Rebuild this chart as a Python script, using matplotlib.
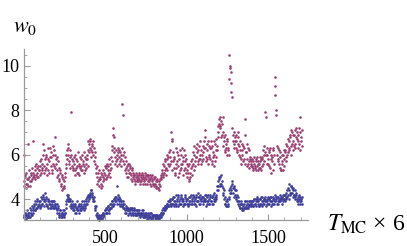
import numpy as np
import matplotlib
matplotlib.use("Agg")
import matplotlib.pyplot as plt
from matplotlib.ticker import MultipleLocator

# ── Data ───────────────────────────────────────────────────────────────
# two interleaved samples per series, one value every 5 steps each,
# the "_b" lists sit half a step later
step = 5

w0_upper = [
    6.0, 4.8, 5.0, 4.7, 4.9, 6.5, 4.6, 5.0, 4.8, 5.1, 4.9, 5.2, 6.6, 5.0, 5.3, 5.1, 5.4, 5.2, 5.0, 5.3,
    5.5, 5.2, 5.6, 5.3, 6.5, 5.5, 5.8, 5.4, 6.0, 5.6, 5.3, 5.7, 6.3, 5.5, 5.9, 5.2, 5.6, 6.2, 6.8, 5.4,
    5.6, 5.3, 5.1, 5.4, 4.9, 5.2, 4.7, 5.0, 4.5, 4.8, 4.6, 5.0, 5.6, 6.2, 6.0, 6.3, 5.7, 5.9, 7.9, 5.5,
    5.7, 5.4, 5.6, 5.3, 5.8, 5.5, 5.7, 5.2, 5.6, 5.4, 5.8, 5.5, 5.3, 5.7, 5.5, 5.9, 5.4, 5.6, 5.8, 6.2,
    6.5, 6.3, 6.6, 6.2, 6.4, 6.0, 6.3, 5.6, 5.9, 5.2, 5.0, 4.8, 5.3, 4.6, 4.9, 4.7, 5.1, 4.8, 5.0, 5.2,
    5.1, 5.4, 5.0, 5.3, 5.5, 5.2, 5.6, 5.4, 5.7, 6.4, 7.2, 6.8, 5.9, 5.7, 6.0, 5.8, 6.1, 5.9, 5.7, 6.0,
    5.8, 8.3, 7.8, 5.6, 5.9, 5.4, 5.2, 5.5, 5.3, 5.6, 5.2, 5.4, 5.1, 5.3, 5.0, 4.9, 5.1, 4.8, 5.0, 4.9,
    5.0, 4.9, 5.1, 4.8, 5.0, 4.9, 5.1, 5.0, 4.8, 5.0, 4.9, 5.1, 4.8, 5.0, 4.9, 4.7, 5.0, 4.8, 4.9, 4.7,
    4.9, 4.7, 4.8, 4.6, 4.8, 4.5, 4.7, 4.6, 4.9, 5.0, 5.3, 5.1, 5.5, 5.3, 5.7, 5.4, 5.8, 5.6, 5.5, 5.9,
    6.2, 7.0, 6.7, 5.7, 5.4, 5.9, 5.2, 5.6, 6.1, 5.0, 5.5, 5.8, 5.3, 6.0, 5.6, 5.1, 5.7, 6.2, 5.4, 5.8,
    5.3, 5.0, 5.5, 4.9, 5.2, 5.4, 5.1, 5.8, 5.6, 6.0, 5.7, 6.3, 5.9, 6.1, 5.6, 6.4, 6.0, 5.8, 6.2, 5.7,
    6.1, 6.6, 7.1, 6.3, 5.9, 6.2, 5.6, 6.4, 6.0, 5.8, 6.3, 5.7, 6.1, 5.5, 6.0, 6.5, 5.9, 6.2, 7.3, 7.0,
    7.6, 7.2, 7.5, 6.9, 7.7, 6.4, 6.8, 6.1, 6.5, 6.0, 6.7, 6.3, 10.5, 9.9, 9.7, 9.2, 8.6, 6.9, 6.5, 6.8,
    6.3, 6.6, 6.1, 7.0, 6.4, 5.9, 6.2, 5.6, 6.0, 6.4, 5.8, 7.6, 5.6, 6.1, 5.5, 6.3, 5.7, 5.4, 5.9, 5.6,
    5.5, 5.7, 5.3, 5.6, 5.4, 5.8, 5.5, 5.3, 5.7, 5.6, 5.4, 5.8, 5.5, 5.9, 6.2, 5.7, 7.9, 6.0, 5.6, 6.3,
    5.8, 6.1, 5.4, 6.0, 5.2, 5.7, 6.3, 5.6, 9.5, 8.7, 7.8, 6.0, 5.7, 6.2, 5.4, 5.9, 5.3, 5.6, 6.0, 5.5,
    5.8, 6.2, 5.9, 6.4, 6.1, 6.6, 6.3, 6.8, 6.4, 7.0, 6.6, 6.2, 6.9, 6.5, 7.2, 6.7, 6.3, 6.9, 6.5, 7.7,
    6.8, 6.4,
]

w0_upper_b = [
    4.6, 5.1, 4.5, 5.2, 4.7, 4.9, 5.3, 4.6, 5.2, 4.8, 5.4, 5.0, 5.1, 5.5, 4.9, 5.6, 5.0, 5.5, 5.3, 5.7,
    5.1, 5.8, 5.4, 6.0, 5.2, 6.2, 5.3, 5.9, 5.1, 6.3, 5.8, 5.2, 5.9, 6.1, 5.3, 6.0, 6.4, 5.5, 6.0, 5.8,
    5.9, 5.0, 5.7, 4.8, 5.3, 4.6, 5.1, 4.4, 4.9, 4.5, 5.2, 5.4, 6.0, 5.8, 6.5, 5.6, 6.2, 5.4, 6.0, 5.8,
    5.3, 5.9, 5.1, 6.0, 5.4, 5.2, 6.1, 5.5, 5.1, 5.9, 5.3, 6.0, 5.6, 5.2, 6.1, 5.3, 5.8, 6.0, 5.5, 6.6,
    6.1, 6.7, 5.9, 6.5, 6.1, 6.6, 5.7, 6.1, 5.4, 5.5, 4.7, 5.2, 4.9, 5.0, 4.5, 5.2, 4.6, 5.3, 4.9, 5.5,
    5.5, 4.9, 5.6, 5.1, 5.8, 5.3, 5.0, 5.9, 6.2, 6.9, 6.1, 6.3, 5.6, 6.2, 5.5, 6.3, 5.6, 6.2, 6.1, 5.5,
    6.3, 6.0, 5.7, 6.1, 5.3, 5.7, 5.0, 5.6, 5.0, 5.2, 5.5, 4.9, 5.4, 4.8, 5.2, 5.1, 4.7, 5.2, 4.8, 5.1,
    4.8, 5.2, 4.7, 5.1, 4.8, 5.2, 4.7, 4.9, 5.2, 4.7, 5.1, 4.7, 5.1, 4.8, 5.1, 4.9, 4.6, 5.1, 4.7, 5.0,
    4.6, 5.0, 4.5, 4.9, 4.5, 4.8, 4.4, 4.9, 5.1, 5.2, 5.0, 5.6, 5.2, 5.8, 5.1, 6.0, 5.3, 5.9, 6.1, 5.6,
    5.7, 6.6, 5.3, 6.1, 5.8, 5.1, 6.3, 5.4, 5.7, 6.0, 5.2, 6.2, 5.6, 5.4, 6.3, 5.9, 5.3, 5.7, 6.0, 5.2,
    5.6, 5.2, 4.8, 5.6, 5.0, 5.7, 5.5, 6.1, 5.3, 6.4, 5.5, 5.9, 6.5, 5.7, 6.2, 5.8, 6.6, 5.6, 6.0, 6.4,
    5.8, 6.3, 6.8, 5.7, 6.5, 5.8, 6.6, 5.9, 6.3, 6.6, 5.6, 6.4, 5.9, 6.6, 5.7, 6.2, 6.7, 6.4, 6.8, 7.4,
    7.3, 7.7, 6.8, 7.4, 7.0, 6.6, 6.2, 6.9, 6.3, 6.6, 6.2, 6.0, 9.4, 10.0, 8.8, 7.2, 6.6, 7.0, 6.3, 6.6,
    6.9, 6.2, 6.8, 6.5, 6.0, 6.6, 5.8, 6.5, 6.2, 5.7, 6.3, 6.9, 6.1, 5.8, 6.5, 5.6, 6.2, 5.8, 5.5, 5.7,
    5.8, 5.4, 5.9, 5.5, 5.7, 5.3, 5.9, 5.6, 5.4, 5.9, 5.7, 5.3, 5.8, 5.6, 6.0, 6.4, 6.1, 7.7, 6.0, 5.6,
    6.2, 5.5, 6.3, 5.8, 5.9, 6.2, 5.3, 6.0, 9.1, 8.0, 6.4, 5.8, 6.3, 5.6, 6.1, 5.3, 6.0, 5.7, 5.3, 6.2,
    6.1, 5.7, 6.5, 6.0, 6.7, 6.2, 6.9, 6.0, 7.1, 6.5, 6.9, 6.4, 7.1, 6.3, 6.8, 7.0, 6.6, 7.2, 6.2, 7.0,
    6.6, 7.1,
]

w0_lower = [
    3.3, 3.2, 3.4, 3.3, 3.5, 3.2, 3.3, 3.4, 3.2, 3.5, 3.3, 3.6, 3.4, 3.7, 3.5, 3.8, 3.6, 3.9, 3.7, 3.8,
    3.9, 3.7, 4.0, 3.8, 4.1, 3.9, 4.3, 3.8, 4.0, 3.7, 3.9, 3.8, 3.6, 3.9, 3.7, 3.8, 3.6, 3.9, 3.7, 3.8,
    3.6, 3.5, 3.7, 3.4, 3.3, 3.5, 3.2, 3.4, 3.3, 3.2, 3.5, 3.4, 3.8, 4.0, 4.2, 4.1, 3.9, 4.0, 3.8, 3.7,
    3.6, 3.8, 3.5, 3.7, 3.4, 3.9, 3.6, 3.5, 3.8, 3.6, 3.7, 3.5, 3.9, 3.6, 3.8, 3.7, 3.9, 4.0, 3.8, 4.1,
    4.2, 4.3, 4.1, 4.4, 4.2, 4.0, 3.9, 3.7, 3.5, 3.3, 3.2, 3.1, 3.3, 3.05, 3.2, 3.1, 3.3, 3.2, 3.4, 3.3,
    3.5, 3.4, 3.6, 3.5, 3.7, 3.4, 3.6, 3.8, 3.7, 3.9, 3.8, 4.0, 3.9, 4.1, 3.8, 4.6, 4.0, 3.9, 4.0, 3.8,
    3.9, 3.7, 3.8, 3.6, 3.5, 3.7, 3.4, 3.6, 3.5, 3.4, 3.6, 3.5, 3.3, 3.5, 3.4, 3.6, 3.5, 3.4, 3.3, 3.5,
    3.4, 3.3, 3.5, 3.2, 3.4, 3.3, 3.5, 3.4, 3.2, 3.3, 3.4, 3.2, 3.3, 3.1, 3.3, 3.2, 3.4, 3.2, 3.1, 3.3,
    3.2, 3.3, 3.1, 3.2, 3.3, 3.2, 3.1, 3.3, 3.2, 3.4, 3.5, 3.4, 3.6, 3.5, 3.7, 3.6, 3.8, 3.7, 3.9, 3.8,
    3.9, 3.7, 4.0, 3.8, 3.7, 4.1, 3.9, 3.8, 4.0, 3.7, 4.2, 3.9, 3.8, 4.1, 3.9, 3.7, 4.0, 3.8, 4.2, 3.9,
    3.8, 4.0, 3.7, 3.9, 4.1, 3.8, 4.0, 3.9, 4.2, 3.8, 4.0, 3.7, 4.1, 3.9, 4.3, 3.8, 4.0, 4.2, 3.9, 4.1,
    3.8, 4.0, 4.2, 3.9, 3.7, 4.1, 3.9, 4.0, 3.8, 4.2, 3.9, 4.1, 3.8, 4.0, 4.3, 3.9, 4.1, 4.4, 4.6, 4.8,
    4.9, 4.7, 5.1, 4.6, 4.5, 4.2, 4.0, 3.8, 3.9, 3.7, 3.9, 3.8, 4.1, 4.3, 4.6, 4.4, 4.7, 4.3, 4.5, 4.2,
    4.4, 4.0, 3.9, 4.1, 3.7, 3.8, 3.6, 3.9, 3.5, 3.7, 3.8, 3.6, 3.9, 3.7, 3.8, 3.6, 3.9, 3.7, 3.8, 3.9,
    3.8, 3.9, 3.7, 4.0, 3.8, 3.9, 4.1, 3.8, 3.9, 3.7, 4.0, 3.8, 3.9, 4.1, 3.8, 4.0, 3.9, 3.7, 4.0, 3.9,
    3.8, 4.0, 3.9, 3.7, 4.1, 3.9, 4.0, 3.8, 4.2, 3.9, 4.0, 4.1, 3.8, 4.0, 4.2, 3.9, 4.0, 4.1, 3.9, 4.2,
    4.0, 3.9, 4.3, 4.1, 4.5, 4.0, 4.4, 4.2, 4.6, 4.3, 4.1, 4.5, 4.2, 4.0, 4.3, 3.9, 4.1, 3.8, 4.0, 3.9,
    4.0, 3.8,
]

w0_lower_b = [
    3.2, 3.4, 3.1, 3.3, 3.2, 3.4, 3.2, 3.6, 3.3, 3.4, 3.7, 3.5, 3.8, 3.5, 3.9, 3.6, 4.0, 3.7, 3.9, 3.6,
    3.7, 4.1, 3.8, 4.2, 3.7, 4.0, 3.9, 4.1, 3.7, 4.0, 3.6, 3.9, 3.8, 3.6, 3.9, 3.7, 3.9, 3.6, 3.8, 3.6,
    3.8, 3.4, 3.6, 3.2, 3.5, 3.3, 3.4, 3.2, 3.5, 3.3, 3.4, 3.6, 3.9, 4.2, 3.9, 4.0, 3.7, 3.9, 3.6, 3.9,
    3.5, 3.7, 3.4, 3.8, 3.6, 3.5, 3.7, 3.4, 3.7, 3.5, 3.8, 3.6, 3.7, 3.5, 3.9, 3.6, 3.8, 4.1, 3.9, 4.2,
    4.0, 4.2, 4.4, 4.1, 4.3, 3.9, 4.1, 3.6, 3.7, 3.4, 3.3, 3.2, 3.1, 3.2, 3.1, 3.3, 3.1, 3.4, 3.3, 3.5,
    3.4, 3.6, 3.4, 3.7, 3.5, 3.6, 3.8, 3.6, 3.9, 3.7, 4.0, 3.8, 4.1, 3.9, 4.0, 4.2, 3.8, 4.1, 3.7, 3.9,
    3.7, 3.9, 3.6, 3.8, 3.4, 3.6, 3.5, 3.3, 3.6, 3.5, 3.4, 3.6, 3.4, 3.6, 3.3, 3.5, 3.3, 3.5, 3.4, 3.3,
    3.5, 3.4, 3.3, 3.4, 3.3, 3.5, 3.2, 3.3, 3.4, 3.2, 3.3, 3.1, 3.4, 3.2, 3.2, 3.4, 3.1, 3.3, 3.2, 3.2,
    3.3, 3.1, 3.3, 3.2, 3.1, 3.3, 3.2, 3.2, 3.4, 3.3, 3.4, 3.6, 3.5, 3.7, 3.6, 3.8, 3.7, 3.9, 3.7, 4.0,
    3.8, 4.0, 3.8, 4.1, 3.9, 3.8, 4.2, 3.7, 3.9, 4.1, 3.8, 4.0, 4.2, 3.8, 4.0, 3.9, 3.8, 4.1, 3.8, 4.0,
    4.0, 3.8, 4.1, 3.8, 3.9, 4.2, 3.8, 4.1, 3.9, 4.1, 3.8, 4.2, 3.9, 4.1, 3.9, 4.1, 3.8, 4.0, 4.1, 3.9,
    4.1, 3.9, 4.0, 4.2, 3.9, 3.8, 4.2, 3.8, 4.1, 3.9, 4.1, 3.8, 4.2, 3.9, 4.1, 4.2, 4.0, 4.6, 4.4, 5.0,
    4.6, 5.0, 4.7, 4.8, 4.3, 4.4, 3.8, 4.1, 3.7, 4.0, 3.7, 4.0, 4.4, 4.5, 4.3, 4.8, 4.5, 4.6, 4.1, 4.4,
    4.1, 4.2, 3.8, 3.9, 3.9, 3.6, 3.8, 3.6, 3.8, 3.5, 3.6, 3.9, 3.6, 3.9, 3.6, 3.8, 3.7, 3.9, 3.7, 3.8,
    3.9, 3.7, 4.0, 3.8, 4.0, 3.7, 3.9, 4.0, 3.7, 4.0, 3.8, 4.1, 3.7, 3.9, 4.0, 3.8, 4.1, 3.9, 3.8, 4.1,
    4.0, 3.8, 4.1, 3.9, 3.8, 4.1, 3.8, 4.0, 3.9, 4.1, 3.8, 3.9, 4.1, 3.9, 4.0, 4.1, 3.8, 4.0, 4.2, 4.0,
    4.2, 4.1, 4.0, 4.4, 4.2, 4.7, 4.3, 4.6, 4.3, 4.5, 4.4, 4.2, 4.4, 4.1, 4.2, 4.0, 3.9, 4.2, 3.8, 4.1,
    3.9, 4.1,
]

x_a = np.arange(len(w0_upper)) * step
x_b = np.arange(len(w0_upper_b)) * step + step / 2

purple = "#993d71"
blue = "#3d3d99"

# ── Figure ─────────────────────────────────────────────────────────────
plt.rcParams["mathtext.fontset"] = "stix"
plt.rcParams["font.family"] = "Liberation Serif"

fig = plt.figure(figsize=(4.07, 2.46), dpi=100)
ax = fig.add_axes([0.058, 0.104, 0.699, 0.697])

for xs, ys in [(x_a, w0_upper), (x_b, w0_upper_b)]:
    ax.scatter(xs, ys, s=3.5, color=purple, linewidths=0, clip_on=False)
for xs, ys in [(x_a, w0_lower), (x_b, w0_lower_b)]:
    ax.scatter(xs, ys, s=3.5, color=blue, linewidths=0, clip_on=False)

ax.set_xlim(0, 1745)
ax.set_ylim(3.05, 10.75)

for side in ["top", "right"]:
    ax.spines[side].set_visible(False)
for side in ["left", "bottom"]:
    ax.spines[side].set_color("#999999")
    ax.spines[side].set_linewidth(0.9)

ax.xaxis.set_minor_locator(MultipleLocator(100))
ax.yaxis.set_minor_locator(MultipleLocator(0.5))
ax.set_xticks([500, 1000, 1500])
ax.set_yticks([4, 6, 8, 10])

ax.tick_params(which="both", direction="in", color="#999999", labelsize=13)
ax.tick_params(which="major", length=4, width=0.8)
ax.tick_params(which="minor", length=2.2, width=0.6)
ax.tick_params(axis="x", pad=7)
ax.tick_params(axis="y", pad=3)

fig.text(0.032, 0.87, "$w_0$", fontsize=16)
fig.text(0.803, 0.063, r"$T_{\rm MC}$ × 6", fontsize=17)

plt.savefig("out.png", dpi=100)
